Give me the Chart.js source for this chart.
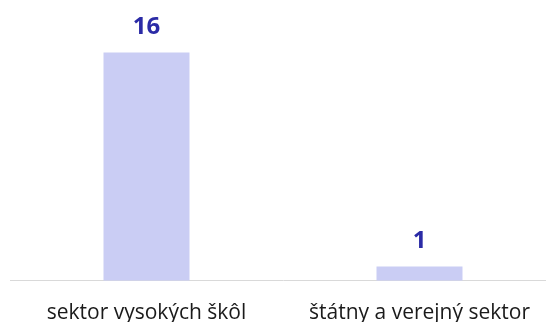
<!DOCTYPE html>
<html>
<head>
<meta charset="utf-8">
<script src="https://cdn.jsdelivr.net/npm/chart.js@4/dist/chart.umd.min.js"></script>
<style>
  html, body { margin: 0; padding: 0; background: #fff; overflow: hidden; }
  #wrap { position: relative; width: 556px; height: 346px; }
</style>
</head>
<body>
<div id="wrap"><canvas id="sectorChart"></canvas></div>
<script>
// sector counts
const categories = ["sektor vysokých škôl", "štátny a verejný sektor"];
const counts = [16, 1];

const barColor = "#cacdf4";
const valueColor = "#2b2ba6";

// value above each bar
const valueLabels = {
  id: "valueLabels",
  afterDatasetsDraw(chart) {
    const ctx = chart.ctx;
    const meta = chart.getDatasetMeta(0);
    ctx.save();
    ctx.font = "bold 24px 'Open Sans'";
    ctx.fillStyle = valueColor;
    ctx.textAlign = "center";
    ctx.textBaseline = "middle";
    meta.data.forEach((bar, i) => {
      ctx.fillText(counts[i], bar.x, bar.y - 25);
    });
    ctx.restore();
  },
};

new Chart(document.getElementById("sectorChart"), {
  type: "bar",
  data: {
    labels: categories,
    datasets: [{ data: counts, backgroundColor: barColor, borderWidth: 0, barPercentage: 1, categoryPercentage: 0.315 }],
  },
  options: {
    responsive: true,
    maintainAspectRatio: false,
    animation: false,
    layout: { padding: { top: 24, left: 10, right: 0, bottom: 0 } },
    scales: {
      x: {
        grid: { display: false, drawTicks: false },
        border: { color: "#d9d9d9", width: 1 },
        ticks: { color: "#1a1a1a", font: { family: "Open Sans", size: 21 }, padding: 20, maxRotation: 0 },
      },
      y: { display: false, min: 0, max: 18 },
    },
    plugins: { legend: { display: false }, tooltip: { enabled: false } },
  },
  plugins: [valueLabels],
});
</script>
</body>
</html>
